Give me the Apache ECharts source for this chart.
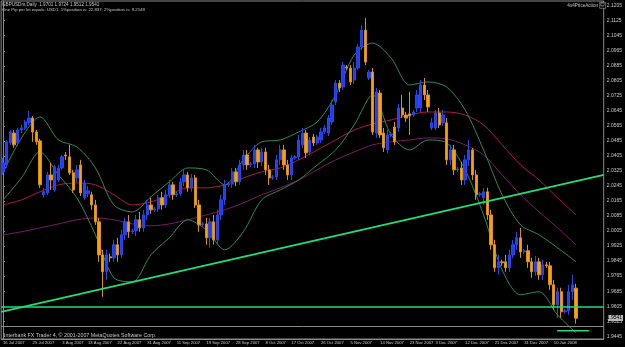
<!DOCTYPE html>
<html><head><meta charset="utf-8">
<script src="https://cdn.jsdelivr.net/npm/echarts@6/dist/echarts.min.js"></script>
<style>html,body{margin:0;padding:0;background:#000}#c{width:625px;height:347px}</style>
</head><body><div id="c"></div>
<script>
// ---- data ----
const openP = [2.0320,2.0357,2.0474,2.0527,2.0474,2.0543,2.0554,2.0581,2.0607,2.0533,2.0485,2.0198,2.0208,2.0304,2.0224,2.0277,2.0341,2.0410,2.0400,2.0315,2.0288,2.0357,2.0182,2.0203,2.0198,2.0144,2.0054,1.9878,1.9788,1.9868,1.9862,1.9932,1.9878,1.9985,2.0054,2.0001,2.0006,2.0065,2.0022,2.0091,2.0144,2.0118,2.0123,2.0182,2.0144,2.0198,2.0251,2.0198,2.0203,2.0267,2.0304,2.0235,2.0288,2.0144,2.0038,2.0043,1.9969,2.0054,1.9958,2.0091,2.0171,2.0251,2.0256,2.0320,2.0267,2.0357,2.0410,2.0357,2.0363,2.0437,2.0373,2.0426,2.0331,2.0288,2.0293,2.0384,2.0437,2.0357,2.0304,2.0394,2.0400,2.0464,2.0527,2.0426,2.0506,2.0474,2.0490,2.0533,2.0527,2.0586,2.0692,2.0793,2.0772,2.0879,2.0873,2.0809,2.0873,2.0985,2.1075,2.0820,2.0852,2.0527,2.0740,2.0527,2.0437,2.0517,2.0559,2.0554,2.0660,2.0623,2.0629,2.0623,2.0660,2.0660,2.0783,2.0730,2.0554,2.0554,2.0634,2.0581,2.0581,2.0384,2.0437,2.0331,2.0341,2.0277,2.0384,2.0437,2.0304,2.0198,2.0182,2.0214,2.0091,1.9932,1.9809,1.9841,1.9841,1.9809,1.9878,1.9932,1.9969,1.9894,1.9900,1.9841,1.9788,1.9841,1.9772,1.9825,1.9820,1.9719,1.9612,1.9682,1.9575,1.9580,1.9682,1.9701];
const closeP = [2.0368,2.0480,2.0533,2.0464,2.0543,2.0554,2.0586,2.0607,2.0533,2.0480,2.0251,2.0214,2.0304,2.0277,2.0347,2.0341,2.0400,2.0405,2.0315,2.0224,2.0331,2.0208,2.0261,2.0219,2.0144,2.0054,1.9878,1.9788,1.9878,1.9862,1.9932,1.9878,1.9985,2.0054,2.0001,2.0006,2.0065,2.0022,2.0091,2.0144,2.0118,2.0123,2.0182,2.0144,2.0198,2.0251,2.0198,2.0203,2.0267,2.0304,2.0235,2.0288,2.0144,2.0038,2.0043,1.9969,2.0054,1.9958,2.0091,2.0171,2.0251,2.0256,2.0320,2.0267,2.0357,2.0410,2.0357,2.0363,2.0437,2.0373,2.0426,2.0331,2.0288,2.0293,2.0384,2.0437,2.0357,2.0304,2.0394,2.0400,2.0490,2.0527,2.0421,2.0490,2.0474,2.0506,2.0533,2.0554,2.0607,2.0676,2.0793,2.0767,2.0889,2.0873,2.0799,2.0873,2.0985,2.1075,2.0905,2.0852,2.0533,2.0746,2.0517,2.0448,2.0517,2.0522,2.0480,2.0660,2.0623,2.0607,2.0618,2.0639,2.0730,2.0783,2.0730,2.0666,2.0581,2.0634,2.0570,2.0623,2.0384,2.0437,2.0331,2.0336,2.0277,2.0384,2.0437,2.0304,2.0198,2.0203,2.0214,2.0091,1.9932,1.9809,1.9841,1.9836,1.9809,1.9878,1.9932,1.9969,1.9894,1.9900,1.9841,1.9788,1.9841,1.9772,1.9825,1.9820,1.9719,1.9612,1.9682,1.9575,1.9580,1.9682,1.9719,1.9541];
const lowP = [2.0304,2.0341,2.0464,2.0448,2.0458,2.0527,2.0543,2.0570,2.0480,2.0464,2.0235,2.0182,2.0198,2.0224,2.0214,2.0267,2.0331,2.0384,2.0304,2.0208,2.0267,2.0192,2.0171,2.0187,2.0118,2.0038,1.9841,1.9655,1.9745,1.9841,1.9841,1.9841,1.9862,1.9958,1.9969,1.9990,1.9979,2.0001,2.0001,2.0065,2.0097,2.0107,2.0107,2.0118,2.0128,2.0182,2.0171,2.0187,2.0192,2.0245,2.0214,2.0214,2.0128,2.0001,2.0027,1.9932,1.9916,1.9932,1.9932,2.0065,2.0144,2.0240,2.0235,2.0245,2.0251,2.0331,2.0331,2.0347,2.0341,2.0341,2.0352,2.0304,2.0251,2.0277,2.0277,2.0357,2.0331,2.0277,2.0277,2.0384,2.0384,2.0448,2.0394,2.0410,2.0458,2.0464,2.0474,2.0522,2.0511,2.0570,2.0676,2.0746,2.0756,2.0863,2.0783,2.0788,2.0863,2.0969,2.0889,2.0809,2.0517,2.0501,2.0501,2.0426,2.0421,2.0506,2.0464,2.0533,2.0607,2.0586,2.0517,2.0613,2.0639,2.0639,2.0703,2.0639,2.0543,2.0543,2.0554,2.0565,2.0357,2.0357,2.0304,2.0320,2.0251,2.0251,2.0352,2.0277,2.0171,2.0187,2.0144,2.0065,1.9905,1.9788,1.9772,1.9820,1.9788,1.9788,1.9862,1.9905,1.9862,1.9884,1.9809,1.9756,1.9767,1.9745,1.9745,1.9809,1.9692,1.9586,1.9543,1.9543,1.9565,1.9559,1.9639,1.9512];
const highP = [2.0394,2.0490,2.0543,2.0543,2.0554,2.0570,2.0597,2.0644,2.0618,2.0543,2.0496,2.0235,2.0320,2.0368,2.0357,2.0357,2.0410,2.0426,2.0464,2.0331,2.0357,2.0384,2.0277,2.0245,2.0214,2.0171,2.0075,1.9905,1.9905,1.9884,1.9958,1.9969,2.0011,2.0075,2.0091,2.0017,2.0091,2.0107,2.0118,2.0171,2.0182,2.0134,2.0198,2.0214,2.0224,2.0277,2.0267,2.0214,2.0288,2.0331,2.0320,2.0309,2.0304,2.0171,2.0054,2.0075,2.0075,2.0091,2.0118,2.0198,2.0277,2.0267,2.0341,2.0341,2.0384,2.0437,2.0437,2.0373,2.0464,2.0448,2.0448,2.0448,2.0357,2.0304,2.0410,2.0464,2.0464,2.0384,2.0410,2.0410,2.0517,2.0554,2.0543,2.0506,2.0522,2.0517,2.0554,2.0570,2.0623,2.0703,2.0809,2.0809,2.0905,2.0889,2.0889,2.0905,2.1001,2.1102,2.1139,2.0863,2.0873,2.0767,2.0756,2.0554,2.0543,2.0533,2.0586,2.0682,2.0730,2.0639,2.0746,2.0650,2.0756,2.0809,2.0820,2.0756,2.0607,2.0650,2.0660,2.0650,2.0607,2.0464,2.0464,2.0347,2.0373,2.0410,2.0490,2.0448,2.0331,2.0214,2.0235,2.0235,2.0118,1.9958,1.9878,1.9852,1.9878,1.9905,1.9958,2.0001,2.0022,1.9910,1.9932,1.9862,1.9873,1.9862,1.9852,1.9841,1.9841,1.9745,1.9703,1.9703,1.9591,1.9719,1.9772,1.9724];

// indicator lines, read every 5 bars (bar index, price)
const indIdx  = [0,5,10,15,20,25,30,35,40,45,50,55,60,65,70,75,80,85,90,95,100,105,110,115,120,125,130,135,140,145,150,155];
const bandUp  = [2.0315,2.0501,2.0613,2.0490,2.0453,2.0341,2.0144,2.0107,2.0187,2.0267,2.0341,2.0331,2.0251,2.0384,2.0480,2.0490,2.0533,2.0586,2.0730,2.0942,2.1006,2.0926,2.0783,2.0799,2.0772,2.0650,2.0437,2.0198,2.0038,1.9985,1.9916,1.9841];
const bandLow = [2.0171,2.0288,2.0426,2.0304,2.0182,1.9985,1.9756,1.9735,1.9878,1.9969,2.0065,2.0011,1.9905,2.0001,2.0171,2.0224,2.0277,2.0357,2.0437,2.0570,2.0730,2.0517,2.0437,2.0490,2.0474,2.0331,2.0091,1.9799,1.9666,1.9682,1.9559,1.9463];
const maFast  = [2.0144,2.0171,2.0214,2.0251,2.0261,2.0251,2.0198,2.0144,2.0160,2.0198,2.0235,2.0235,2.0251,2.0288,2.0320,2.0341,2.0384,2.0437,2.0490,2.0543,2.0575,2.0597,2.0623,2.0639,2.0639,2.0623,2.0570,2.0464,2.0357,2.0277,2.0182,2.0091];
const maSlow  = [1.9985,2.0001,2.0022,2.0043,2.0065,2.0075,2.0065,2.0043,2.0033,2.0043,2.0065,2.0091,2.0118,2.0155,2.0198,2.0235,2.0277,2.0331,2.0384,2.0426,2.0464,2.0480,2.0490,2.0501,2.0496,2.0464,2.0410,2.0304,2.0198,2.0107,2.0022,1.9932];

// drawn objects
const trendX = [-0.5, 162.5];
const trendY = [1.9575, 2.0304];
const hLevel = 1.9639;
const bidLevel = 1.9541;
const shortX = [149.9, 158.5];
const shortY = 1.9474;

// axes
const yTicks = [2.1205,2.1125,2.1045,2.0965,2.0885,2.0805,2.0725,2.0645,2.0565,2.0485,2.0405,2.0325,2.0245,2.0165,2.0085,2.0005,1.9925,1.9845,1.9765,1.9685,1.9605,1.9525,1.9445];
const dateLabels = ['16 Jul 2007','25 Jul 2007','3 Aug 2007','13 Aug 2007','22 Aug 2007','31 Aug 2007','11 Sep 2007','19 Sep 2007','28 Sep 2007','8 Oct 2007','17 Oct 2007','26 Oct 2007','5 Nov 2007','14 Nov 2007','23 Nov 2007','3 Dec 2007','12 Dec 2007','21 Dec 2007','31 Dec 2007','10 Jan 2008'];
const dateIdx = [0,8,16,23,31,39,47,55,63,71,78,86,94,102,110,117,125,133,141,149];
const SLOTS = 163;

// ---- build ----
const cats = Array.from({length: SLOTS}, (_, i) => String(i));
const candles = openP.map((o, i) => [o, closeP[i], lowP[i], highP[i]]);
const pair = (arr) => indIdx.map((x, k) => [x, arr[k]]);
const labelMap = {};
dateIdx.forEach((d, k) => labelMap[d] = dateLabels[k]);
const showIdx = (i) => labelMap[i] !== undefined;

const FONT = 'Liberation Sans';
const TXT = '#c8c8c8';
const chart = echarts.init(document.getElementById('c'), null, {renderer: 'canvas'});
chart.setOption({
  backgroundColor: '#000',
  animation: false,
  grid: {left: 0, right: 18, top: 1, bottom: 8, show: true, borderColor: '#8a8a8a', borderWidth: 1},
  xAxis: [{
    type: 'category', data: cats, boundaryGap: true,
    axisLine: {lineStyle: {color: '#8a8a8a'}},
    axisTick: {alignWithLabel: true, interval: (i) => showIdx(i), length: 2, lineStyle: {color: '#8a8a8a'}},
    axisLabel: {interval: (i) => showIdx(i), formatter: (v, i) => labelMap[i] || '', align: 'left',
      fontSize: 4.2, color: TXT, fontFamily: FONT, margin: 2, hideOverlap: false},
    splitLine: {show: false}
  }, {
    type: 'value', min: -0.5, max: SLOTS - 0.5, show: false
  }],
  yAxis: {
    type: 'value', position: 'right', min: 1.94301, max: 2.1230, scale: true,
    axisLine: {show: true, lineStyle: {color: '#8a8a8a'}},
    axisTick: {show: true, customValues: yTicks, length: 2, lineStyle: {color: '#8a8a8a'}},
    axisLabel: {customValues: yTicks, formatter: (v) => v.toFixed(4), fontSize: 5, color: TXT, fontFamily: FONT, margin: 3},
    splitLine: {show: false}
  },
  graphic: [
    {type: 'text', left: 2, top: 2, style: {text: 'GBPUSDm,Daily  1.9701 1.9724 1.9512 1.9541', fill: TXT, font: '4.6px ' + FONT}},
    {type: 'text', left: 2, top: 8, style: {text: 'One Pip per lot equals: USD1. 1%position is: 22.837; 2%position is: 9.2148', fill: TXT, font: '4.3px ' + FONT}},
    {type: 'text', right: 27, top: 3, style: {text: '4x4PriceAction', fill: TXT, font: '4.6px ' + FONT}},
    {type: 'rect', right: 19, top: 2, shape: {width: 6, height: 6}, style: {fill: '#000', stroke: '#aaa', lineWidth: 0.6}},
    {type: 'text', right: 20, top: 2.5, style: {text: '☺', fill: '#ddd', font: '5px DejaVu Sans'}},
    {type: 'text', left: 4, top: 333, z: 10, style: {text: 'Interbank FX Trader 4, © 2001-2007 MetaQuotes Software Corp.', fill: TXT, font: '5.3px ' + FONT}},
    {type: 'rect', right: 2, top: 315, z: 10, shape: {width: 15, height: 6}, style: {fill: '#b8b8b8'}},
    {type: 'text', right: 3, top: 315.5, z: 11, style: {text: bidLevel.toFixed(4), fill: '#000', font: '5px ' + FONT}}
  ],
  series: [
    {type: 'line', xAxisIndex: 1, data: pair(maSlow), symbol: 'none', smooth: 0.3, lineStyle: {color: '#7a1a66', width: 1}, z: 2},
    {type: 'line', xAxisIndex: 1, data: pair(maFast), symbol: 'none', smooth: 0.3, lineStyle: {color: '#b0184a', width: 1}, z: 2},
    {type: 'line', xAxisIndex: 1, data: pair(bandUp), symbol: 'none', smooth: 0.3, lineStyle: {color: '#2e8b57', width: 1}, z: 2},
    {type: 'line', xAxisIndex: 1, data: pair(bandLow), symbol: 'none', smooth: 0.3, lineStyle: {color: '#2e8b57', width: 1}, z: 2},
    {type: 'candlestick', data: candles, barWidth: 2.8, z: 3,
      itemStyle: {color: '#1e3cff', color0: '#ffa200', borderColor: '#2a48e8', borderColor0: '#d89010', borderWidth: 1},
      markLine: {symbol: 'none', silent: true, animation: false,
        data: [
          {yAxis: hLevel, lineStyle: {color: '#22dd77', width: 1.6, type: 'solid'}, label: {show: false}},
          {yAxis: bidLevel, lineStyle: {color: '#8a8a8a', width: 1, type: 'solid'}, label: {show: false}}
        ]}
    },
    {type: 'line', xAxisIndex: 1, data: trendX.map((x, k) => [x, trendY[k]]), symbol: 'none', lineStyle: {color: '#22dd77', width: 1.8}, z: 4},
    {type: 'line', xAxisIndex: 1, data: shortX.map((x) => [x, shortY]), symbol: 'none', lineStyle: {color: '#22dd77', width: 1.4}, z: 4}
  ]
});
</script></body></html>
